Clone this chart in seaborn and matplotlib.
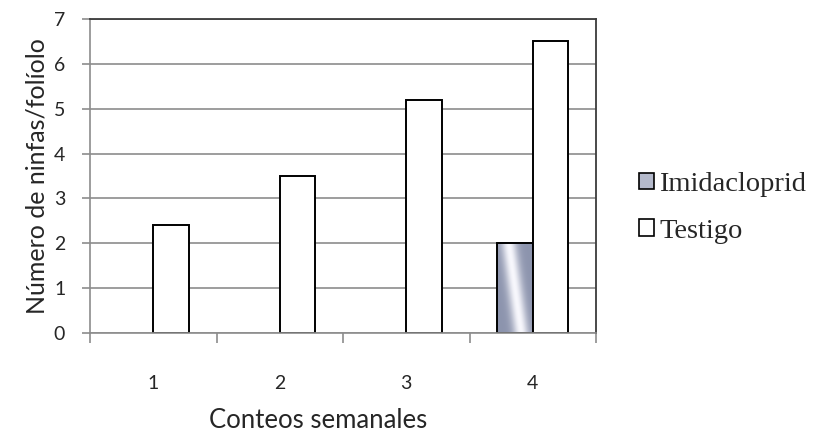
import numpy as np
import pandas as pd
import seaborn as sns
import matplotlib.pyplot as plt
from matplotlib.patches import Patch

semanas = ['1', '2', '3', '4']
imidacloprid = [0, 0, 0, 2.0]
testigo = [2.4, 3.5, 5.2, 6.5]
series = ['Imidacloprid', 'Testigo']

df = pd.DataFrame({
    'Semana': semanas * 2,
    'Tratamiento': [series[0]] * 4 + [series[1]] * 4,
    'Ninfas': imidacloprid + testigo,
})

sns.set_style('white')
plt.rcParams['font.family'] = ['Lato', 'DejaVu Sans']

fig = plt.figure(figsize=(8.13, 4.33), dpi=100)
ax = fig.add_axes([0.111, 0.231, 0.622, 0.725])

sns.barplot(data=df, x='Semana', y='Ninfas', hue='Tratamiento',
            palette={'Imidacloprid': '#aab0c4', 'Testigo': 'white'},
            width=0.56, gap=0, edgecolor='black', linewidth=1.4,
            legend=False, ax=ax, zorder=2)

# gradient fill for the Imidacloprid bars, hide zero-height bars
dark = np.array([0.55, 0.58, 0.68])
light = np.array([0.97, 0.97, 0.99])
yy, xx = np.mgrid[0:1:200j, 0:1:80j]
u = xx - 0.35 * (yy - 0.5)
b = np.exp(-((u - 0.5) / 0.22) ** 2)
grad = dark + (light - dark) * b[..., None]

for p in ax.patches:
    if p.get_height() == 0:
        p.set_visible(False)
    elif p.get_facecolor()[0] < 0.9:
        x0, y0 = p.get_x(), p.get_y()
        im = ax.imshow(grad, extent=[x0, x0 + p.get_width(), y0, y0 + p.get_height()],
                       origin='upper', aspect='auto', zorder=1.9)
        im.set_clip_path(p)
        p.set_facecolor('none')

ax.set_xlim(-0.5, 3.5)
ax.set_ylim(0, 7)
ax.set_yticks(range(0, 8))
ax.set_xticks(range(4))
ax.set_xticklabels(semanas)
ax.set_xticks([-0.5, 0.5, 1.5, 2.5, 3.5], minor=True)

ax.yaxis.grid(True, color='#8c8c8c', linewidth=1.2)
ax.set_axisbelow(True)

for s in ['left', 'bottom']:
    ax.spines[s].set_color('#8c8c8c')
    ax.spines[s].set_linewidth(1.2)
for s in ['top', 'right']:
    ax.spines[s].set_color('#3c3c3c')
    ax.spines[s].set_linewidth(1.3)

ax.tick_params(axis='y', which='major', direction='out', length=6, width=1.2,
               color='#8c8c8c', labelsize=14, pad=12, left=True)
ax.tick_params(axis='x', which='major', length=0, labelsize=14, pad=30)
ax.tick_params(axis='x', which='minor', direction='out', length=7, width=1.2,
               color='#8c8c8c', bottom=True)

ax.set_xlabel('Conteos semanales', fontsize=18.5)
ax.xaxis.set_label_coords(0.45, -0.24)
ax.set_ylabel('Número de ninfas/folíolo', fontsize=18, labelpad=4)

handles = [Patch(facecolor='#b4b9cb', edgecolor='black', linewidth=1.2),
           Patch(facecolor='white', edgecolor='black', linewidth=1.2)]
fig.legend(handles, series, loc='center left', bbox_to_anchor=(0.755, 0.52),
           frameon=False, prop={'family': 'Liberation Serif', 'size': 20.5},
           handlelength=0.5, handleheight=0.5, handletextpad=0.2, labelspacing=0.75)

fig.savefig('out.png', dpi=100)
